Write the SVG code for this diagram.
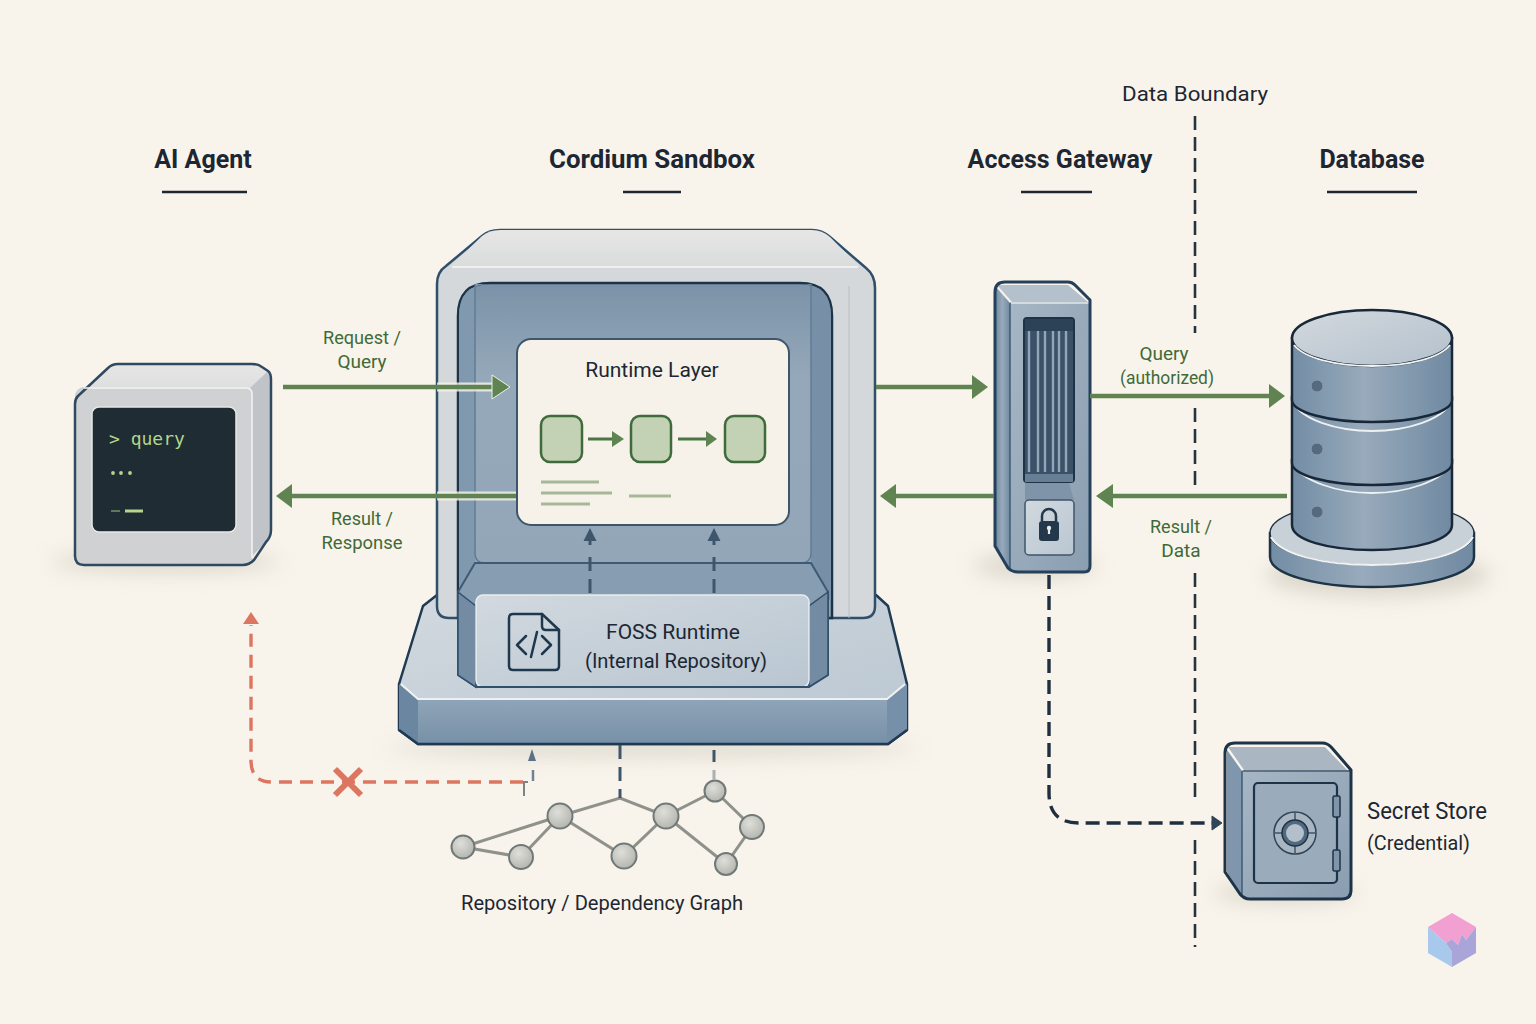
<svg xmlns="http://www.w3.org/2000/svg" width="1536" height="1024" viewBox="0 0 1536 1024">
<style>
text{font-family:Roboto,"Liberation Sans",sans-serif}
.title{font-size:25px;font-weight:700;fill:#1d2733;text-anchor:middle}
.label{font-size:21px;fill:#1d2733;text-anchor:middle}
.green{font-size:19px;fill:#3f6a38;text-anchor:middle}
.rule{stroke:#1d2733;stroke-width:2.5;fill:none}
.edge{stroke:#5f8452;stroke-width:4.5;fill:none}
.halo{stroke:#f6f2e9;stroke-width:9;fill:none;opacity:.8}
.head{fill:#5f8452}
.bound{stroke:#25333f;stroke-width:2.6;fill:none;stroke-dasharray:14 7}
.probe{stroke:#3e566b;stroke-width:3;fill:none;stroke-dasharray:14 8}
.ink{stroke:#2f4a60;stroke-width:2.5;stroke-linejoin:round}
.gedge{stroke:#8f918a;stroke-width:3;fill:none}
.gnode{fill:url(#ball);stroke:#70797a;stroke-width:2}
.step{fill:#c3d2b5;stroke:#3f6a3c;stroke-width:2.5}
.note{stroke:#a6b898;stroke-width:3}
</style>
<defs>
<linearGradient id="steel" x1="0" x2="1" y1="0" y2="0"><stop offset="0" stop-color="#738da5"/><stop offset=".45" stop-color="#98aabb"/><stop offset="1" stop-color="#708aa2"/></linearGradient>
<linearGradient id="wall" x1="0" x2="0" y1="0" y2="1"><stop offset="0" stop-color="#7a92a8"/><stop offset=".28" stop-color="#95a8b9"/><stop offset="1" stop-color="#92a6b8"/></linearGradient>
<linearGradient id="light" x1="0" x2="0" y1="0" y2="1"><stop offset="0" stop-color="#e6e6e5"/><stop offset="1" stop-color="#dadcdc"/></linearGradient>
<linearGradient id="plate" x1="0" x2="1" y1="0" y2="1"><stop offset="0" stop-color="#d2d9df"/><stop offset="1" stop-color="#b9c6d1"/></linearGradient>
<linearGradient id="front" x1="0" x2="0" y1="0" y2="1"><stop offset="0" stop-color="#8fa4b7"/><stop offset="1" stop-color="#7790a7"/></linearGradient>
<linearGradient id="face" x1="0" x2="1" y1="0" y2="1"><stop offset="0" stop-color="#a7b6c4"/><stop offset="1" stop-color="#8a9eb1"/></linearGradient>
<linearGradient id="disc" x1="0" x2="1" y1="0" y2="1"><stop offset="0" stop-color="#d3d9de"/><stop offset="1" stop-color="#b3c0cc"/></linearGradient>
<radialGradient id="ball" cx=".4" cy=".35" r=".7"><stop offset="0" stop-color="#dedfd9"/><stop offset="1" stop-color="#b2b3ac"/></radialGradient>
<filter id="soft" x="-30%" y="-60%" width="160%" height="220%"><feGaussianBlur stdDeviation="10"/></filter>
</defs>

<rect id="paper" width="1536" height="1024" fill="#f9f4eb"/>

<g id="shadows" fill="#bdb9ae" opacity=".5" filter="url(#soft)">
<ellipse cx="165" cy="562" rx="115" ry="10"/>
<ellipse cx="652" cy="748" rx="265" ry="8"/>
<ellipse cx="1035" cy="566" rx="62" ry="12"/>
<ellipse cx="1378" cy="575" rx="112" ry="22"/>
<ellipse cx="1285" cy="893" rx="72" ry="10"/>
</g>

<g id="headers">
<text class="title" x="203" y="168">AI Agent</text>
<path class="rule" d="M162 192H247"/>
<text class="title" x="652" y="168" textLength="206" lengthAdjust="spacingAndGlyphs">Cordium Sandbox</text>
<path class="rule" d="M623 192H681"/>
<text class="title" x="1060" y="168">Access Gateway</text>
<path class="rule" d="M1021 192H1092"/>
<text class="title" x="1372" y="168">Database</text>
<path class="rule" d="M1327 192H1417"/>
</g>

<g id="boundary">
<text class="label" x="1195" y="101" textLength="146" lengthAdjust="spacingAndGlyphs">Data Boundary</text>
<path class="bound" d="M1195 116V333M1195 408V485M1195 573V800M1195 840V947"/>
</g>

<g id="ai-agent">
<path d="M78 396L108 368Q112 364 118 364H252Q258 364 262 367L268 371L252 388H84Z" fill="url(#light)"/>
<path d="M250 388L268 371Q271 373 271 380V530Q271 537 266 542L252 556V560H250Z" fill="#c0c4c9"/>
<rect x="75" y="387" width="177" height="178" rx="9" fill="#cfd1d3"/>
<path d="M78 396Q75 399 75 404V556Q75 565 84 565H243Q249 565 254 560L266 542Q271 537 271 530V380Q271 373 268 371L262 367Q258 364 252 364H118Q112 364 108 368Z" fill="none" class="ink"/>
<path d="M84 388H246Q252 388 252 394V558" stroke="#f4f4f2" stroke-width="1.5" fill="none"/>
<rect x="92" y="407" width="144" height="125" rx="7" fill="#1f2c33" stroke="#e6e8e6" stroke-width="1.5"/>
<text x="109" y="445" font-size="18" style="font-family:'DejaVu Sans Mono','Liberation Mono',monospace" fill="#b5d48c">&gt; query</text>
<g fill="#b5d48c"><circle cx="113" cy="473" r="1.9"/><circle cx="121" cy="473" r="1.9"/><circle cx="130" cy="473" r="1.9"/></g>
<path d="M111 511H120" stroke="#5c7a55" stroke-width="2"/>
<path d="M125 511H143" stroke="#b5d48c" stroke-width="3"/>
</g>

<g id="cordium-sandbox">
<path d="M437 595L423 606L399 684V730L418 744H888L907 730V684L888 606L876 595Z" fill="url(#plate)" stroke="#1f3a52" stroke-width="2.5" stroke-linejoin="round"/>
<path d="M418 700H887V744H418Z" fill="url(#front)"/>
<path d="M399 684L418 700V744L399 730Z" fill="#6a86a0"/>
<path d="M907 684L887 700V744L907 730Z" fill="#7590a8"/>
<path d="M401 684L418 699H887L905 684" stroke="#eef1f2" stroke-width="2" fill="none"/>
<path d="M399 730L418 744H888L907 730" stroke="#1f3a52" stroke-width="2.5" fill="none"/>
<path d="M437 606V284Q437 272 446 266L482 236Q489 230 500 230H812Q822 230 830 237L866 268Q875 275 875 288V606Q875 618 863 618H449Q437 618 437 606Z" fill="#d5d8da" stroke="#2f4f6b" stroke-width="2.5"/>
<path d="M450 267L482 236Q489 230 500 230H812Q822 230 830 237L860 267Z" fill="url(#light)"/>
<path d="M452 267H858" stroke="#f7f7f5" stroke-width="1.5"/>
<path d="M849 286V618" stroke="#b7bec4" stroke-width="1"/>
<path d="M458 618V316Q458 283 490 283H800Q832 283 832 316V618Z" fill="url(#wall)" stroke="#1d3347" stroke-width="2.5"/>
<path d="M459 316Q459 284 490 284H475V600H459Z" fill="#8199af"/>
<path d="M831 316Q831 284 800 284H811V600H831Z" fill="#7790a7"/>
<path d="M475 284V553Q475 563 485 563H801Q811 563 811 553V284" fill="none" stroke="#627c95" stroke-width="1.5"/>
<path d="M458 592L475 563H811L828 592V675L809 687H476L458 675Z" fill="#879db2" stroke="#3e5b75" stroke-width="2"/>
<path d="M458 592L476 606V687L458 675Z" fill="#738ca4" stroke="#2f4f6b" stroke-width="1.5"/>
<path d="M828 592L809 606V687L828 675Z" fill="#738ca4" stroke="#2f4f6b" stroke-width="1.5"/>
<rect x="476" y="595" width="333" height="92" rx="7" fill="url(#plate)" stroke="#e9edef" stroke-width="1.5"/>
<path d="M476 687H809" stroke="#2f4f6b" stroke-width="2"/>
<g fill="none" stroke="#20384e" stroke-width="2.5" stroke-linejoin="round" stroke-linecap="round">
<path d="M513 614H542L559 630V666Q559 670 555 670H513Q509 670 509 666V618Q509 614 513 614Z"/>
<path d="M542 614V626Q542 630 546 630H559"/>
<path d="M526 636L517 645L526 654M542 636L551 645L542 654M537 632L531 657"/>
</g>
<text class="label" x="673" y="639">FOSS Runtime</text>
<text class="label" x="676" y="668" textLength="182" lengthAdjust="spacingAndGlyphs">(Internal Repository)</text>
<rect x="517" y="339" width="272" height="186" rx="14" fill="#f6f2e9" stroke="#3e566b" stroke-width="2"/>
<text class="label" x="652" y="377">Runtime Layer</text>
<rect class="step" x="541" y="416" width="41" height="46" rx="9"/>
<rect class="step" x="631" y="416" width="40" height="46" rx="9"/>
<rect class="step" x="725" y="416" width="40" height="46" rx="9"/>
<path d="M588 439H612" stroke="#4d7444" stroke-width="3"/>
<path d="M612 431L624 439L612 447Z" fill="#5f8452"/>
<path d="M678 439H706" stroke="#4d7444" stroke-width="3"/>
<path d="M706 431L717 439L706 447Z" fill="#5f8452"/>
<path class="note" d="M541 482H599M541 493H612M541 504H590M629 496H671"/>
</g>

<g id="access-gateway">
<path d="M997 285H1068L1088 302H1012Z" fill="#b4c0cb"/>
<path d="M996 287L1010 303V571L996 546Z" fill="url(#steel)"/>
<path d="M1010 302H1090V568Q1090 572 1084 572H1016Q1010 572 1010 566Z" fill="url(#face)"/>
<path d="M1011 303H1089" stroke="#e4e8ea" stroke-width="1.5"/>
<path d="M1010 303V569" stroke="#3e5b75" stroke-width="1.5"/>
<path d="M995 292Q995 282 1005 282H1068Q1072 282 1075 285L1090 300V566Q1090 572 1084 572H1018Q1012 572 1008 568L995 546Z" fill="none" stroke="#24405a" stroke-width="3" stroke-linejoin="round"/>
<rect x="1024" y="318" width="50" height="164" rx="3" fill="#3a5168" stroke="#1f3346" stroke-width="2"/>
<rect x="1025" y="319" width="48" height="12" fill="#2c4257"/>
<path d="M1029 331V472M1038 331V472M1045 331V472M1053 331V472M1059 331V472M1066 331V472" stroke="#93a5b6" stroke-width="2.4"/>
<rect x="1025" y="474" width="48" height="8" fill="#677f95"/>
<path d="M1025 483H1069L1074 500H1025Z" fill="#7f94a8"/>
<rect x="1025" y="500" width="49" height="55" rx="4" fill="url(#plate)" stroke="#3e566b" stroke-width="1.5"/>
<path d="M1042 521V516A7 7 0 0 1 1056 516V521" fill="none" stroke="#24384c" stroke-width="2.5"/>
<rect x="1039" y="521" width="20" height="20" rx="3" fill="#24384c"/>
<path d="M1049 534V529" stroke="#e6eaec" stroke-width="2.2"/><circle cx="1049" cy="528" r="2.2" fill="#e6eaec"/>
</g>

<g id="database">
<path d="M1270 533V557C1270 574 1316 587 1372 587C1428 587 1474 574 1474 557V533Z" fill="url(#steel)" stroke="#1f3346" stroke-width="2.5"/>
<ellipse cx="1372" cy="533" rx="102" ry="32" fill="#c9d1d8" stroke="#1f3346" stroke-width="1.5"/>
<path d="M1271 537C1280 554 1322 565 1372 565C1422 565 1464 554 1473 537" fill="none" stroke="#f1f3f3" stroke-width="2"/>
<path d="M1292 460V525C1292 540 1328 550 1372 550C1416 550 1452 540 1452 525V460Z" fill="url(#steel)" stroke="#182838" stroke-width="2.5"/>
<path d="M1294 466C1303 480 1335 493 1372 493C1409 493 1441 480 1450 466" fill="none" stroke="#eef1f2" stroke-width="1.8"/>
<path d="M1292 397V463C1292 475 1328 485 1372 485C1416 485 1452 475 1452 463V397Z" fill="url(#steel)" stroke="#182838" stroke-width="2.5"/>
<path d="M1294 404C1303 419 1335 431 1372 431C1409 431 1441 419 1450 404" fill="none" stroke="#eef1f2" stroke-width="1.8"/>
<path d="M1292 338V400C1292 412 1328 422 1372 422C1416 422 1452 412 1452 400V338Z" fill="url(#steel)" stroke="#182838" stroke-width="2.5"/>
<ellipse cx="1372" cy="338" rx="80" ry="28" fill="url(#disc)" stroke="#182838" stroke-width="2.5"/>
<path d="M1294 345C1304 358 1335 366 1372 366C1409 366 1440 358 1450 345" fill="none" stroke="#f1f3f3" stroke-width="2"/>
<g fill="#55697f" stroke="#8a9cad"><circle cx="1317" cy="386" r="6"/><circle cx="1317" cy="449" r="6"/><circle cx="1317" cy="512" r="6"/></g>
</g>

<g id="secret-store">
<path d="M1228 747H1325L1347 770H1244Z" fill="#aab7c3"/>
<path d="M1227 750L1242 771V897L1227 872Z" fill="#7f96ac"/>
<path d="M1242 770H1351V890Q1351 898 1342 898H1250Q1242 898 1242 890Z" fill="url(#face)"/>
<path d="M1243 771H1350" stroke="#1d3347" stroke-width="1"/>
<path d="M1242 771V896" stroke="#3e5b75" stroke-width="1.5"/>
<path d="M1225 753Q1225 743 1235 743H1322Q1328 743 1332 748L1351 770V890Q1351 899 1342 899H1250Q1244 899 1240 894L1225 872Z" fill="none" stroke="#1d3347" stroke-width="3" stroke-linejoin="round"/>
<rect x="1254" y="783" width="83" height="100" rx="4" fill="#9aabbb" stroke="#1d3347" stroke-width="2.2"/>
<rect x="1333" y="796" width="7" height="21" rx="1.5" fill="#8095a9" stroke="#1d3347" stroke-width="1.5"/>
<rect x="1333" y="850" width="7" height="21" rx="1.5" fill="#8095a9" stroke="#1d3347" stroke-width="1.5"/>
<circle cx="1295" cy="833" r="21" fill="#a9b6c2" stroke="#2f4456" stroke-width="1.5"/>
<path d="M1295 813V820M1295 846V853M1275 833H1282M1308 833H1315" stroke="#3e566b" stroke-width="1.5"/>
<circle cx="1295" cy="833" r="13" fill="#52687f" stroke="#1d3347" stroke-width="1.5"/>
<circle cx="1295" cy="833" r="9" fill="#b3c0cb"/>
<text x="1367" y="819" font-size="23" fill="#1d2733" textLength="120" lengthAdjust="spacingAndGlyphs">Secret Store</text>
<text x="1367" y="850" font-size="21" fill="#1d2733" textLength="103" lengthAdjust="spacingAndGlyphs">(Credential)</text>
</g>

<g id="dependency-graph">
<path class="gedge" d="M463 847L560 816M463 847L521 857M521 857L560 816M560 816L620 798L666 816M560 816L624 856L666 816L715 791L752 827L726 864L666 816"/>
<circle class="gnode" cx="463" cy="847" r="11.5"/>
<circle class="gnode" cx="521" cy="857" r="12"/>
<circle class="gnode" cx="560" cy="816" r="12.5"/>
<circle class="gnode" cx="624" cy="856" r="12.5"/>
<circle class="gnode" cx="666" cy="816" r="12.5"/>
<circle class="gnode" cx="715" cy="791" r="10.5"/>
<circle class="gnode" cx="752" cy="827" r="12"/>
<circle class="gnode" cx="726" cy="864" r="11"/>
<text class="label" x="602" y="910" textLength="282" lengthAdjust="spacingAndGlyphs">Repository / Dependency Graph</text>
</g>

<g id="connectors">
<path class="halo" d="M437 387H492M437 496H516"/>
<path class="edge" d="M283 387H494"/><path class="head" stroke="#eef0ea" stroke-width="1" d="M492 375L510 387L492 399Z"/>
<path class="edge" d="M516 496H290"/><path class="head" d="M292 484L276 496L292 508Z"/>
<path class="edge" d="M876 387H974"/><path class="head" d="M972 375L988 387L972 399Z"/>
<path class="edge" d="M994 496H894"/><path class="head" d="M896 484L880 496L896 508Z"/>
<path class="edge" d="M1090 396H1271"/><path class="head" d="M1269 384L1285 396L1269 408Z"/>
<path class="edge" d="M1287 496H1111"/><path class="head" d="M1113 484L1096 496L1113 508Z"/>
<path class="probe" d="M590 593V551M714 593V551"/>
<path d="M590 545V540M714 545V540" stroke="#3e566b" stroke-width="3"/>
<path d="M590 528L583.500 541H596.500ZM714 528L707.500 541H720.500Z" fill="#3e566b"/>
<path class="probe" d="M620 745V798"/>
<path d="M714 750V762" stroke="#3e566b" stroke-width="3"/>
<path d="M714 770V780" stroke="#a9b1b3" stroke-width="3"/>
<path d="M533 770V781" stroke="#6f8294" stroke-width="2.5"/>
<path d="M532 749L528 761H536Z" fill="#5a7186"/>
<path d="M515 782H528M524 782V796" stroke="#7b8388" stroke-width="2"/>
<path d="M1049 575V793Q1049 823 1079 823H1212" fill="none" stroke="#1f2f3f" stroke-width="3.4" stroke-dasharray="14 7"/>
<path d="M1212 816L1222 823L1212 830Z" fill="#2f4456" stroke="#2f4456" stroke-width="1"/>
<path d="M523 782H272Q251 782 251 761V625" fill="none" stroke="#dc7660" stroke-width="3.4" stroke-dasharray="13 8"/>
<path d="M251 612L243 624H259Z" fill="#dc7660"/>
<path d="M335 769L361 795M361 769L335 795" stroke="#dc7660" stroke-width="6"/>
<text class="green" x="362" y="344" textLength="78" lengthAdjust="spacingAndGlyphs">Request /</text>
<text class="green" x="362" y="368">Query</text>
<text class="green" x="362" y="525" textLength="62" lengthAdjust="spacingAndGlyphs">Result /</text>
<text class="green" x="362" y="549" textLength="81" lengthAdjust="spacingAndGlyphs">Response</text>
<text class="green" x="1164" y="360">Query</text>
<text class="green" x="1167" y="384" textLength="94" lengthAdjust="spacingAndGlyphs">(authorized)</text>
<text class="green" x="1181" y="533" textLength="62" lengthAdjust="spacingAndGlyphs">Result /</text>
<text class="green" x="1181" y="557">Data</text>
</g>

<g id="corner-mark">
<path d="M1428 927L1452 913L1476 927L1466 940L1462 934L1458 945L1452 939L1446 943Z" fill="#f29fd2"/>
<path d="M1428 927L1446 943L1452 952V967L1428 953Z" fill="#a8c8ec"/>
<path d="M1476 927V953L1452 967V952L1446 943L1452 939L1458 945L1462 934L1466 940Z" fill="#aaa5d8"/>
</g>
</svg>
